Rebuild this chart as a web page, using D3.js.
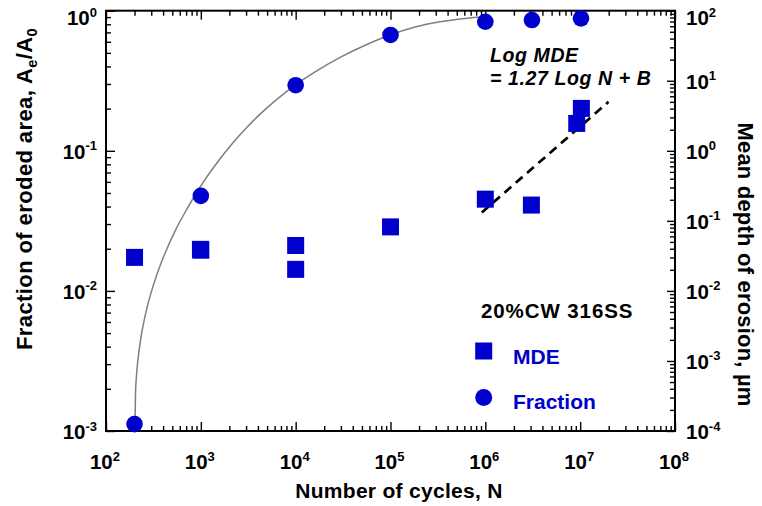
<!DOCTYPE html>
<html>
<head>
<meta charset="utf-8">
<script src="https://cdn.jsdelivr.net/npm/d3@7"></script>
<style>
  html, body { margin: 0; padding: 0; background: #fff; }
  svg { display: block; font-family: "Liberation Sans", Arial, Helvetica, sans-serif; }
</style>
</head>
<body>
<svg id="chart" width="762" height="506"></svg>
<script>
// ---------- data ----------
const fractionCycles = [200, 1000, 1e4, 1e5, 1e6, 3.1e6, 1.02e7];
const fractionValues = [0.00112, 0.0477, 0.294, 0.671, 0.834, 0.858, 0.882];

const mdeCycles = [200, 990, 1000, 1e4, 1e4, 1e5, 1e6, 3.06e6, 9.2e6, 1.03e7];
const mdeValues = [0.0301, 0.0392, 0.0381, 0.0445, 0.0203, 0.082, 0.204, 0.168, 2.46, 4.03];

// grey fitted curve through the fraction points
const fitCurveCycles = [202.2, 204.7, 209.7, 217.5, 233.9, 257.9, 291.1, 345.1, 419.3, 534.3, 715.1, 997.5,
  1412, 2032, 2926, 4213, 6523, 9975, 16020, 29410, 53970, 103970, 181800, 333600, 612300, 1.032e6];
const fitCurveValues = [0.001117, 0.001847, 0.002483, 0.003252, 0.004669, 0.006574, 0.009135, 0.01316, 0.01859, 0.02674, 0.03852, 0.05605,
  0.07852, 0.1077, 0.1424, 0.1826, 0.2367, 0.2951, 0.3654, 0.4638, 0.5670, 0.6795, 0.7647, 0.8331, 0.8810, 0.9106];

const mdeFitCycles = [9.19e5, 1.99e7];
const mdeFitValues = [0.132, 5.0];

const xTickExponents = [2, 3, 4, 5, 6, 7, 8];
const yLeftTickExponents = [-3, -2, -1, 0];
const yRightTickExponents = [-4, -3, -2, -1, 0, 1, 2];

const legendTitle = "20%CW 316SS";
const legendLabels = ["MDE", "Fraction"];
const annotationLines = ["Log MDE", "= 1.27 Log N + B"];

// ---------- layout ----------
const blue = "#0000CC";
const svg = d3.select("#chart");
const L = 106, R = 675, T = 10.7, B = 431;

const x = d3.scaleLog().domain([1e2, 1e8]).range([L, R]);
const yL = d3.scaleLog().domain([1e-3, 1e0]).range([B, T]);
const yR = d3.scaleLog().domain([1e-4, 1e2]).range([B, T]);

function minors(lo, hi) {
  const out = [];
  for (let e = lo; e < hi; e++) for (let m = 2; m <= 9; m++) out.push(m * Math.pow(10, e));
  return out;
}
const xMajor = xTickExponents.map(e => Math.pow(10, e));
const yLMajor = yLeftTickExponents.map(e => Math.pow(10, e));
const yRMajor = yRightTickExponents.map(e => Math.pow(10, e));

function drawAxis(axisGen, transform) {
  const g = svg.append("g").attr("transform", transform).call(axisGen);
  g.select(".domain").remove();
  g.selectAll(".tick line").attr("stroke", "#000").attr("stroke-width", 1.4);
  g.selectAll(".tick text").remove();
  return g;
}
// bottom
drawAxis(d3.axisBottom(x).tickValues(xMajor).tickSizeInner(-9).tickSizeOuter(0), `translate(0,${B})`);
drawAxis(d3.axisBottom(x).tickValues(minors(2, 8)).tickSizeInner(-5).tickSizeOuter(0), `translate(0,${B})`);
// top
drawAxis(d3.axisTop(x).tickValues(xMajor).tickSizeInner(-9).tickSizeOuter(0), `translate(0,${T})`);
drawAxis(d3.axisTop(x).tickValues(minors(2, 8)).tickSizeInner(-5).tickSizeOuter(0), `translate(0,${T})`);
// left
drawAxis(d3.axisLeft(yL).tickValues(yLMajor).tickSizeInner(-9).tickSizeOuter(0), `translate(${L},0)`);
drawAxis(d3.axisLeft(yL).tickValues(minors(-3, 0)).tickSizeInner(-5).tickSizeOuter(0), `translate(${L},0)`);
// right
drawAxis(d3.axisRight(yR).tickValues(yRMajor).tickSizeInner(-8).tickSizeOuter(0), `translate(${R},0)`);
drawAxis(d3.axisRight(yR).tickValues(minors(-4, 2)).tickSizeInner(-5).tickSizeOuter(0), `translate(${R},0)`);

// frame
svg.append("rect").attr("x", L).attr("y", T).attr("width", R - L).attr("height", B - T)
  .attr("fill", "none").attr("stroke", "#000").attr("stroke-width", 2);

// power-of-ten labels
function powLabel(g, exp, xPos, yPos, anchor) {
  const t = g.append("text").attr("x", xPos).attr("y", yPos)
    .attr("text-anchor", anchor).attr("font-size", 20.5).attr("font-weight", "bold").attr("fill", "#000");
  t.append("tspan").text("10");
  t.append("tspan").attr("dy", -8.5).attr("font-size", 13).text(String(exp));
}
const labels = svg.append("g");
xTickExponents.forEach(e => powLabel(labels, e, x(Math.pow(10, e)) - 1, 469, "middle"));
yLeftTickExponents.forEach(e => powLabel(labels, e, 97, Math.max(yL(Math.pow(10, e)) + 8, 25), "end"));
yRightTickExponents.forEach(e => powLabel(labels, e, 686, Math.max(yR(Math.pow(10, e)) + 8, 25), "start"));

// axis titles
svg.append("text").attr("x", 399).attr("y", 498).attr("text-anchor", "middle")
  .attr("font-size", 21).attr("font-weight", "bold").attr("letter-spacing", 0.3).text("Number of cycles, N");

const lt = svg.append("text").attr("transform", "translate(32,189) rotate(-90)")
  .attr("text-anchor", "middle").attr("font-size", 22).attr("font-weight", "bold").attr("letter-spacing", 0.4);
lt.append("tspan").text("Fraction of eroded area, A");
lt.append("tspan").attr("font-size", 14.5).attr("dy", 5).text("e");
lt.append("tspan").attr("dy", -5).text("/A");
lt.append("tspan").attr("font-size", 14.5).attr("dy", 5).text("0");

svg.append("text").attr("transform", "translate(738,264.5) rotate(90)")
  .attr("text-anchor", "middle").attr("font-size", 22).attr("font-weight", "bold").attr("letter-spacing", 0.2)
  .text("Mean depth of erosion, \u00b5m");

// fitted curve for fraction
const line = d3.line().curve(d3.curveMonotoneX);
svg.append("path")
  .attr("d", line(fitCurveCycles.map((c, i) => [x(c), yL(fitCurveValues[i])])))
  .attr("fill", "none").attr("stroke", "#7f7f7f").attr("stroke-width", 1.5);

// MDE fit (dashed)
svg.append("path")
  .attr("d", d3.line()(mdeFitCycles.map((c, i) => [x(c), yR(mdeFitValues[i])])))
  .attr("fill", "none").attr("stroke", "#000").attr("stroke-width", 2.7)
  .attr("stroke-dasharray", "9,6");

// MDE squares
const sq = 17;
svg.append("g").selectAll("rect").data(mdeCycles.map((c, i) => [c, mdeValues[i]])).join("rect")
  .attr("x", d => x(d[0]) - sq / 2).attr("y", d => yR(d[1]) - sq / 2)
  .attr("width", sq).attr("height", sq).attr("fill", blue);

// Fraction circles
svg.append("g").selectAll("circle").data(fractionCycles.map((c, i) => [c, fractionValues[i]])).join("circle")
  .attr("cx", d => x(d[0])).attr("cy", d => yL(d[1])).attr("r", 8.3).attr("fill", blue);

// annotation
const ann = svg.append("g").attr("font-size", 19.5).attr("font-weight", "bold").attr("font-style", "italic").attr("letter-spacing", 0.6);
ann.append("text").attr("x", 490).attr("y", 62).text(annotationLines[0]);
ann.append("text").attr("x", 490).attr("y", 85).text(annotationLines[1]);

// legend
const leg = svg.append("g");
leg.append("text").attr("x", 481).attr("y", 318).attr("font-size", 20.5).attr("font-weight", "bold").attr("letter-spacing", 0.9).text(legendTitle);
leg.append("rect").attr("x", 483.7 - sq / 2).attr("y", 351 - sq / 2).attr("width", sq).attr("height", sq).attr("fill", blue);
leg.append("text").attr("x", 513).attr("y", 363.5).attr("font-size", 21).attr("font-weight", "bold").attr("fill", blue).text(legendLabels[0]);
leg.append("circle").attr("cx", 483.7).attr("cy", 397.5).attr("r", 8.5).attr("fill", blue);
leg.append("text").attr("x", 513).attr("y", 408.5).attr("font-size", 21).attr("font-weight", "bold").attr("fill", blue).text(legendLabels[1]);
</script>
</body>
</html>
